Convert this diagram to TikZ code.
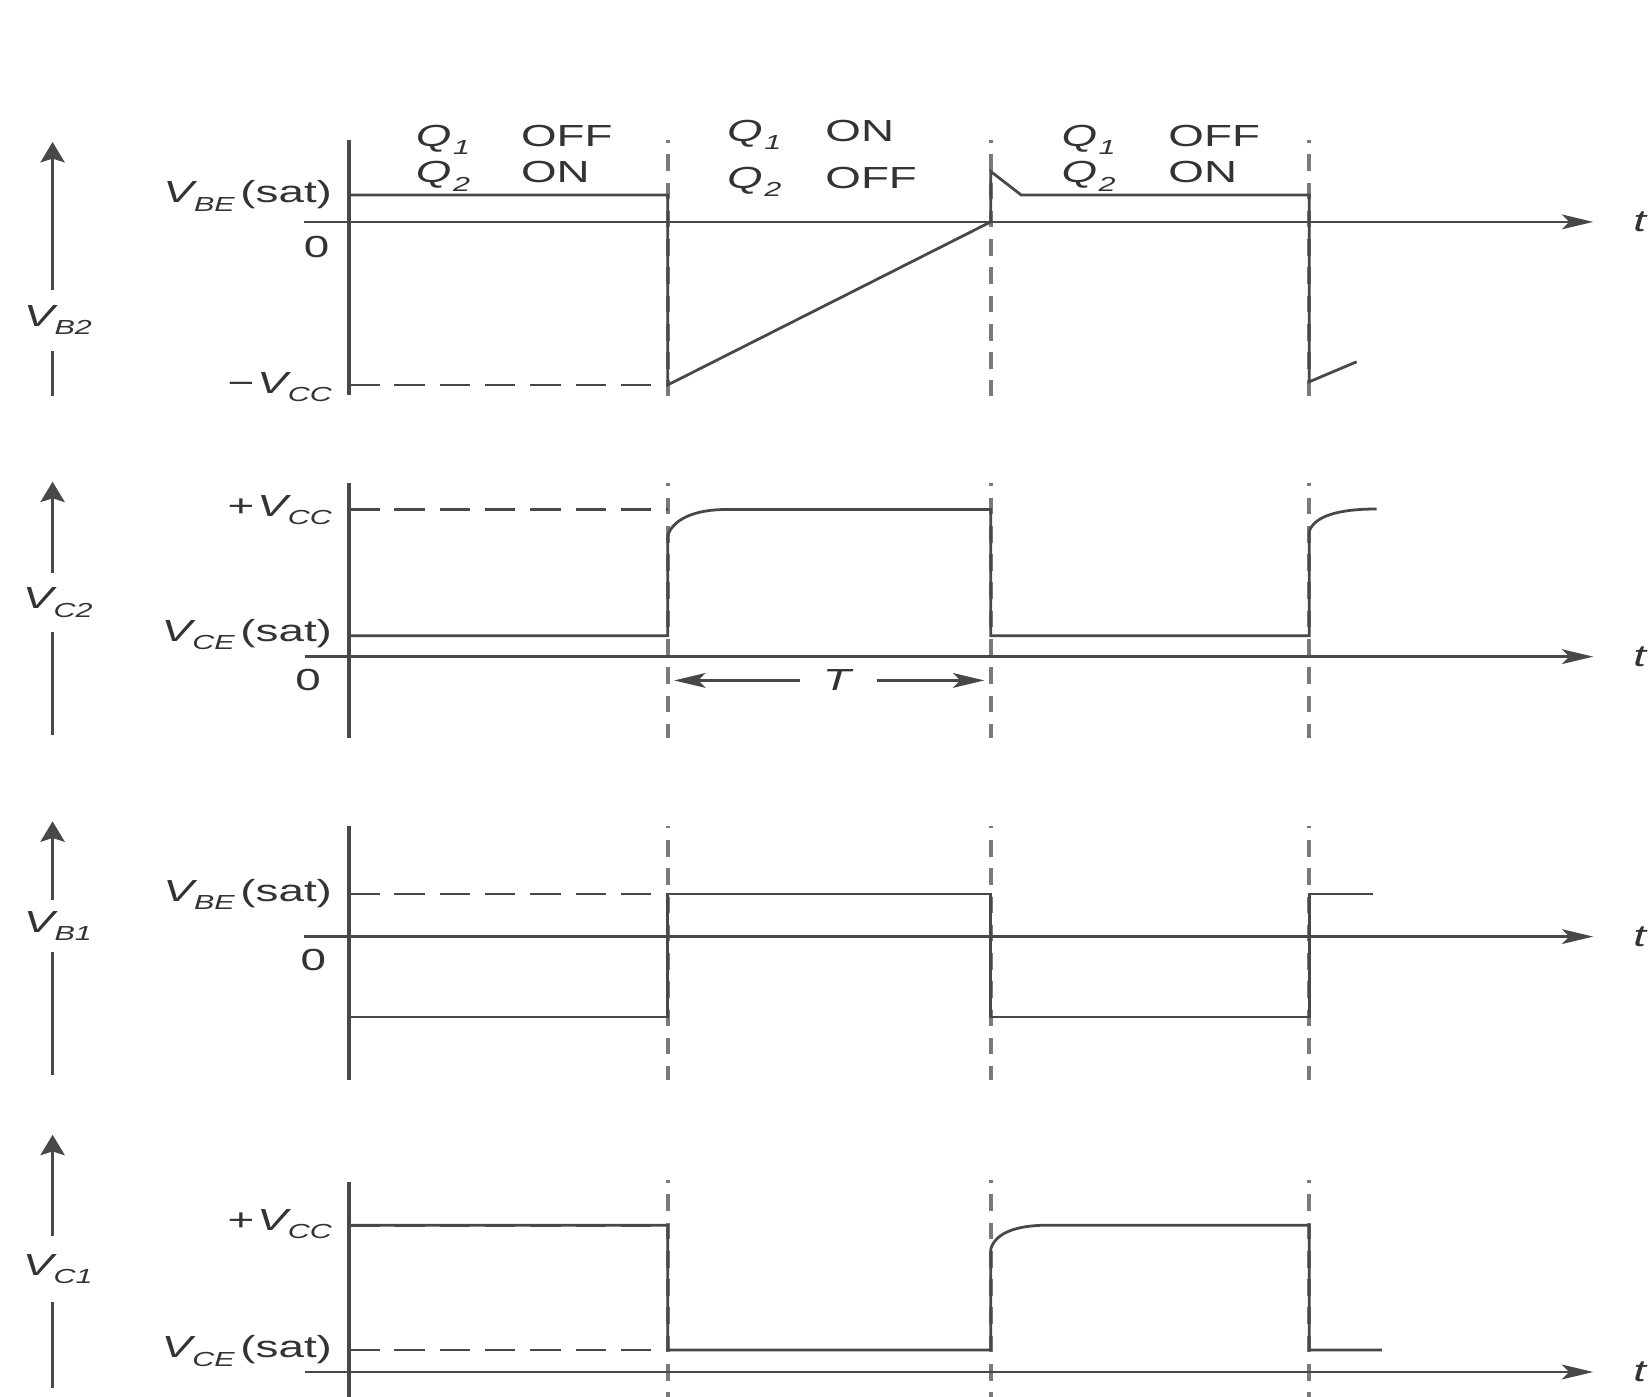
\documentclass[tikz,border=0pt]{standalone}
\usepackage{fontspec}
\setmainfont{Liberation Sans}
\usetikzlibrary{arrows.meta}
\definecolor{lc}{HTML}{484848}
\definecolor{gc}{HTML}{7A7A7A}
\definecolor{tc}{HTML}{333333}
\newcommand{\wide}[1]{\scalebox{1.5}[1]{#1}}
\newcommand{\vsub}[2]{\textit{#1}\kern-1.2pt\raisebox{-4.5pt}{\fontsize{11}{11}\selectfont\textit{#2}}}
\newcommand{\qsub}[1]{\textit{Q}\kern0.6pt\raisebox{-4.5pt}{\fontsize{11}{11}\selectfont\textit{#1}}}
\newcommand{\qstate}[4]{\wide{\begin{tabular}[t]{@{}l@{}}\makebox[#1][l]{\qsub{1}}#2\\[#3]\makebox[#1][l]{\qsub{2}}#4\end{tabular}}}
\tikzset{
  wave/.style={line width=1.5pt, draw=lc, line join=miter},
  vline/.style={line width=2pt, draw=lc},
  gridl/.style={line width=2.3pt, draw=gc, dash pattern=on 9pt off 6.3pt, dash phase=7.5pt},
  refl/.style={line width=1.5pt, draw=lc, dash pattern=on 16.5pt off 8pt},
  taxis/.style={line width=1.5pt, draw=lc, -{Stealth[length=17pt,width=8pt,inset=4pt]}},
  yarrow/.style={line width=2pt, draw=lc, -{Stealth[length=11pt,width=13pt,inset=2pt]}},
  lab/.style={font=\fontsize{16.5}{19}\selectfont, text=tc, inner sep=0pt},
}
\begin{document}
\begin{tikzpicture}[x=0.02cm, y=-0.02cm]
\useasboundingbox (0,0) rectangle (1568,1328);
\fill[white] (0,0) rectangle (1568,1328);

% ---------- vertical dashed grid lines ----------
\foreach \gx in {635,942,1245}{
  \draw[gridl] (\gx,133) -- (\gx,377);
  \draw[gridl] (\gx,459.5) -- (\gx,702);
  \draw[gridl] (\gx,785) -- (\gx,1027);
  \draw[gridl] (\gx,1122) -- (\gx,1328);
}

% ---------- left side quantity axes ----------
\node[lab, minimum height=1.14cm] (vb2) at (55,304.5) {\wide{\vsub{V}{B2}}};
\coordinate (a1t) at (50,135); \coordinate (a1b) at (50,377);
\draw[yarrow] (vb2.north -| a1t) -- (a1t);
\draw[vline] (vb2.south -| a1b) -- (a1b);

\node[lab, minimum height=1.12cm] (vc2) at (55,573) {\wide{\vsub{V}{C2}}};
\coordinate (a2t) at (50,458); \coordinate (a2b) at (50,699);
\draw[yarrow] (vc2.north -| a2t) -- (a2t);
\draw[vline] (vc2.south -| a2b) -- (a2b);

\node[lab, minimum height=0.98cm] (vb1) at (55,880.5) {\wide{\vsub{V}{B1}}};
\coordinate (a3t) at (50,781); \coordinate (a3b) at (50,1022);
\draw[yarrow] (vb1.north -| a3t) -- (a3t);
\draw[vline] (vb1.south -| a3b) -- (a3b);

\node[lab, minimum height=1.24cm] (vc1) at (55,1207) {\wide{\vsub{V}{C1}}};
\coordinate (a4t) at (50,1079); \coordinate (a4b) at (50,1320);
\draw[yarrow] (vc1.north -| a4t) -- (a4t);
\draw[vline] (vc1.south -| a4b) -- (a4b);

% ================= Panel 1 : V_B2 =================
\draw[vline] (332,133) -- (332,376);
\draw[taxis] (289,211) -- (1515,211);
\node[lab] (t1) at (1560,211) {\wide{\textit{t}}};
\draw[refl] (332,366) -- (635,366);
\draw[wave] (332,185.4) -- (635,185.4) -- (635,366) -- (942,211) -- (942,163)
  -- (971,185.4) -- (1245,185.4) -- (1245,363) -- (1290,344);
\node[lab, anchor=base east] (vbe1) at (316,193) {\wide{\vsub{V}{BE}\hspace{2pt}(sat)}};
\node[lab] (z1) at (301,234.6) {\wide{0}};
\node[lab, anchor=base east] (mvcc) at (316,374) {\wide{−\hspace{1pt}\vsub{V}{CC}}};

\node[lab, anchor=base west] (qa) at (395,139) {\qstate{38pt}{OFF}{0.8pt}{ON}};
\node[lab, anchor=base west] (qb) at (691,134.7) {\qstate{35.5pt}{ON}{6.1pt}{OFF}};
\node[lab, anchor=base west] (qc) at (1009,139) {\qstate{38.6pt}{OFF}{0.8pt}{ON}};

% ================= Panel 2 : V_C2 =================
\draw[vline] (332,459.5) -- (332,702);
\draw[taxis] (290,624.4) -- (1515,624.4);
\node[lab] (t2) at (1560,624.4) {\wide{\textit{t}}};
\draw[refl] (332,484.5) -- (635,484.5);
\draw[wave] (332,604.5) -- (635,604.5) -- (635,509)
  .. controls (640,494) and (660,484.5) .. (690,484.5) -- (942,484.5)
  -- (942,604.5) -- (1245,604.5) -- (1245,505)
  .. controls (1250,491) and (1272,484) .. (1309,484);
\node[lab, anchor=base east] (vcc2) at (316,491) {\wide{+\hspace{1pt}\vsub{V}{CC}}};
\node[lab, anchor=base east] (vce2) at (316,610) {\wide{\vsub{V}{CE}\hspace{2pt}(sat)}};
\node[lab] (z2) at (293,647) {\wide{0}};
% period arrow
\node[lab, minimum width=1.452cm] (Tlab) at (797,647) {\wide{\textit{T}}};
\coordinate (Tl) at (641,647); \coordinate (Tr) at (936,647);
\draw[taxis] (Tlab.west) -- (Tl);
\draw[taxis] (Tlab.east) -- (Tr);

% ================= Panel 3 : V_B1 =================
\draw[vline] (332,785) -- (332,1027);
\draw[taxis] (289,890.6) -- (1515,890.6);
\node[lab] (t3) at (1560,890.6) {\wide{\textit{t}}};
\draw[refl] (332,850) -- (635,850);
\draw[wave] (332,967) -- (635,967) -- (635,850) -- (942,850) -- (942,967)
  -- (1245,967) -- (1245,850) -- (1306,850);
\node[lab, anchor=base east] (vbe3) at (316,857) {\wide{\vsub{V}{BE}\hspace{2pt}(sat)}};
\node[lab] (z3) at (298,913) {\wide{0}};

% ================= Panel 4 : V_C1 =================
\draw[vline] (332,1123.6) -- (332,1328);
\draw[taxis] (290,1304.6) -- (1515,1304.6);
\node[lab] (t4) at (1560,1304.6) {\wide{\textit{t}}};
\draw[wave] (332,1165) -- (635,1165) -- (635,1283.7) -- (942,1283.7) -- (942,1188)
  .. controls (946,1173) and (965,1165) .. (996,1165) -- (1245,1165)
  -- (1245,1283.7) -- (1314,1283.7);
\draw[refl] (332,1165) -- (635,1165);
\draw[refl] (332,1283.7) -- (635,1283.7);
\node[lab, anchor=base east] (vcc4) at (316,1170) {\wide{+\hspace{1pt}\vsub{V}{CC}}};
\node[lab, anchor=base east] (vce4) at (316,1291) {\wide{\vsub{V}{CE}\hspace{2pt}(sat)}};
\end{tikzpicture}
\end{document}
